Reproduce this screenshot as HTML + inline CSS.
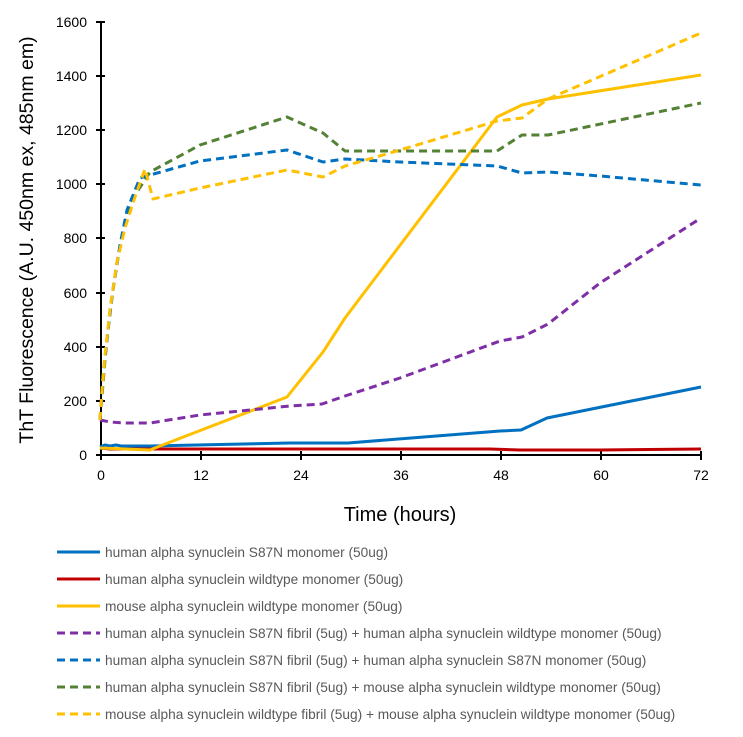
<!DOCTYPE html>
<html><head><style>body{margin:0;background:#fff}svg{display:block}text{font-family:"Liberation Sans",sans-serif}</style></head><body>
<svg width="743" height="737" xmlns="http://www.w3.org/2000/svg">
<g stroke="#000" stroke-width="2" fill="none">
<line x1="101" y1="21" x2="101" y2="456"/>
<line x1="100" y1="455" x2="702" y2="455"/>
<line x1="96" y1="455" x2="105" y2="455"/><line x1="96" y1="401" x2="105" y2="401"/><line x1="96" y1="347" x2="105" y2="347"/><line x1="96" y1="293" x2="105" y2="293"/><line x1="96" y1="238" x2="105" y2="238"/><line x1="96" y1="184" x2="105" y2="184"/><line x1="96" y1="130" x2="105" y2="130"/><line x1="96" y1="76" x2="105" y2="76"/><line x1="96" y1="22" x2="105" y2="22"/>
<line x1="101" y1="451" x2="101" y2="460"/><line x1="201" y1="451" x2="201" y2="460"/><line x1="301" y1="451" x2="301" y2="460"/><line x1="401" y1="451" x2="401" y2="460"/><line x1="501" y1="451" x2="501" y2="460"/><line x1="601" y1="451" x2="601" y2="460"/><line x1="701" y1="451" x2="701" y2="460"/>
</g>
<g font-size="14" fill="#000" text-anchor="end">
<text x="87" y="460">0</text><text x="87" y="406">200</text><text x="87" y="352">400</text><text x="87" y="298">600</text><text x="87" y="243">800</text><text x="87" y="189">1000</text><text x="87" y="135">1200</text><text x="87" y="81">1400</text><text x="87" y="27">1600</text>
</g>
<g font-size="14" fill="#000" text-anchor="middle">
<text x="101" y="480">0</text><text x="201" y="480">12</text><text x="301" y="480">24</text><text x="401" y="480">36</text><text x="501" y="480">48</text><text x="601" y="480">60</text><text x="701" y="480">72</text>
</g>
<text x="400" y="521" font-size="20" text-anchor="middle">Time (hours)</text>
<text transform="translate(33,240) rotate(-90)" font-size="19.5" text-anchor="middle">ThT Fluorescence (A.U. 450nm ex, 485nm em)</text>
<g fill="none" stroke-width="3" stroke-linejoin="round">
<polyline stroke="#C00000" points="100,448 110,449 150,449 490,449 520,450 600,450 701,449"/>
<polyline stroke="#0070C0" points="100,447 105,445 110,446 116,445 121,446 150,446 290,443 348,443 500,431 521,430 547,418 701,387"/>
<polyline stroke="#FFC000" points="100,448 150,450 160,446 287,397 323,352 345,318 497,117 522,105 548,99 701,75"/>
<g stroke-dasharray="8,5">
<polyline stroke="#7E2FA6" points="100,420 110,422 125,423 150,423 200,415 290,406 322,404 345,396 400,378 500,341 522,337 548,324 600,283 701,218"/>
<polyline stroke="#548235" points="100,420 105,360 110,310 117,262 125,225 135,195 150,172 200,145 287,117 323,133 345,151 400,151 497,151 522,135 548,135 701,103"/>
<polyline stroke="#0070C0" points="100,420 103,375 108,330 113,290 120,245 127,210 140,178 150,175 200,161 287,150 323,162 345,159 400,162 497,166 522,173 548,172 600,176 701,185"/>
<polyline stroke="#FFC000" points="100,420 102,390 105,355 110,310 117,262 125,228 135,197 145,169 153,199 200,188 287,170 323,177 345,166 400,150 497,121 522,118 548,99 701,33"/>
</g>
<line x1="57" y1="552" x2="100" y2="552" stroke="#0070C0"/>
<line x1="57" y1="579" x2="100" y2="579" stroke="#C00000"/>
<line x1="57" y1="606" x2="100" y2="606" stroke="#FFC000"/>
<g stroke-dasharray="8,5">
<line x1="57" y1="633" x2="100" y2="633" stroke="#7E2FA6"/>
<line x1="57" y1="660" x2="100" y2="660" stroke="#0070C0"/>
<line x1="57" y1="687" x2="100" y2="687" stroke="#548235"/>
<line x1="57" y1="714" x2="100" y2="714" stroke="#FFC000"/>
</g>
</g>
<g font-size="13.7" fill="#595959">
<text x="105" y="557">human alpha synuclein S87N monomer (50ug)</text>
<text x="105" y="584">human alpha synuclein wildtype monomer (50ug)</text>
<text x="105" y="611">mouse alpha synuclein wildtype monomer (50ug)</text>
<text x="105" y="638">human alpha synuclein S87N fibril (5ug) + human alpha synuclein wildtype monomer (50ug)</text>
<text x="105" y="665">human alpha synuclein S87N fibril (5ug) + human alpha synuclein S87N monomer (50ug)</text>
<text x="105" y="692">human alpha synuclein S87N fibril (5ug) + mouse alpha synuclein wildtype monomer (50ug)</text>
<text x="105" y="719">mouse alpha synuclein wildtype fibril (5ug) + mouse alpha synuclein wildtype monomer (50ug)</text>
</g>
</svg>
</body></html>
